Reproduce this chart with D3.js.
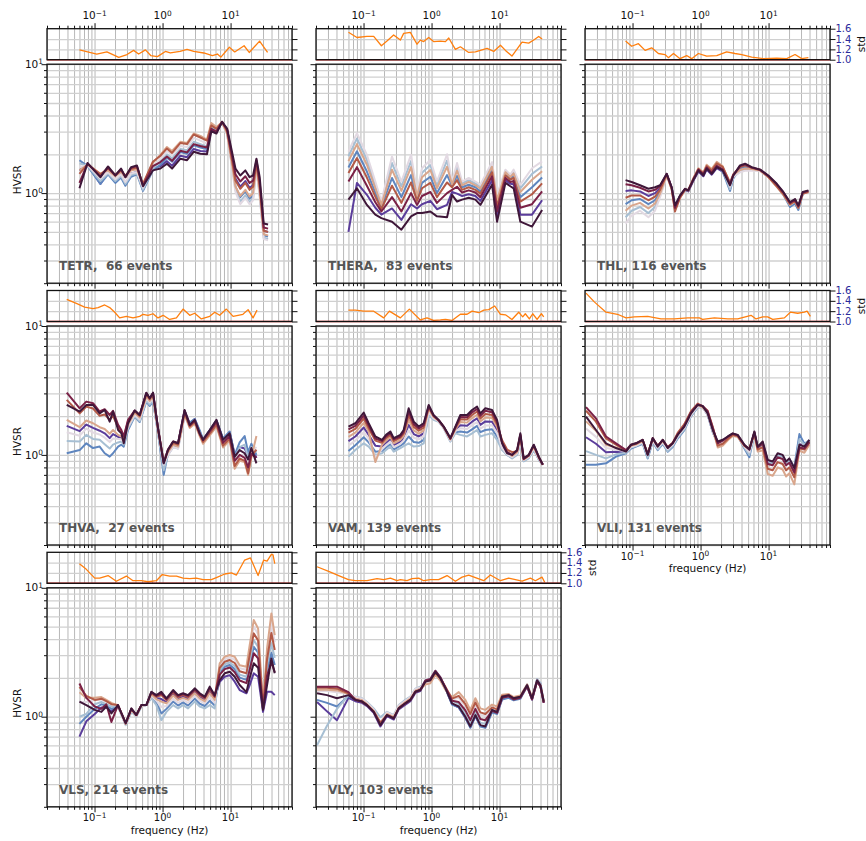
<!DOCTYPE html>
<html lang="en">
<head>
<meta charset="UTF-8">
<title>HVSR by station</title>
<script src="https://d3js.org/d3.v7.min.js"></script>
<style>
  html, body { margin: 0; padding: 0; background: #fff; }
  svg { display: block; font-family: "DejaVu Sans", sans-serif; }
  .domain { display: none; }
  .grid-v .tick line { stroke: #b0b0b0; stroke-width: 0.9; }
  .grid-h .tick line { stroke: #d0d0d0; stroke-width: 1.3; }
  .ax .tick line { stroke: #111; stroke-width: 1; }
  .frame { fill: none; stroke: #111; stroke-width: 1.3; }
  .lbl { font-size: 10.5px; fill: #111; }
  .xlbl { font-size: 10px; fill: #111; }
  .stdlbl { font-size: 10px; fill: #2a2a9a; }
  .pname { font-size: 12px; font-weight: bold; fill: #555; white-space: pre; }
</style>
</head>
<body>
<svg id="chart" width="866" height="841"></svg>
<script>
// colour positions (twilight_shifted) of the 8 drawn curves, drawn in this order
const lineT = [0.12, 0.25, 0.38, 0.5, 0.62, 0.74, 0.86, 0.97];
const cmapStops = [0, 0.12, 0.25, 0.38, 0.5, 0.62, 0.74, 0.86, 1.0];
const cmapColors = ["#2f1436", "#5b3d9b", "#5f86bf", "#a7bfd3", "#e2d9e2", "#d9a68c", "#b35a47", "#7a2146", "#2f1436"];

const panelNames = ["TETR", "THERA", "THL", "THVA", "VAM", "VLI", "VLS", "VLY"];
const panelEvents = [66, 83, 116, 27, 139, 131, 214, 103];

// ---- TETR
const freqTETR = [0.06,0.079,0.122,0.158,0.202,0.245,0.284,0.344,0.42,0.516,0.72,0.93,1.16,1.38,1.83,2.29,2.87,3.6,4.5,5.2,6.2,7.5,8.9,11.8,13.9,16.5,19,21.4,24,26.8,30.7,35.6];
const hvsrTETR = [
  [1.50,1.66,1.18,1.45,1.22,1.40,1.18,1.42,1.46,1.06,1.56,1.62,1.77,1.63,1.95,1.90,2.20,2.12,2.10,3.10,2.98,3.55,3.10,1.30,1.12,1.24,1.10,1.15,1.72,1.12,0.51,0.50],
  [1.80,1.62,1.18,1.40,1.20,1.32,1.14,1.34,1.40,1.04,1.50,1.66,1.88,1.75,2.08,2.02,2.35,2.26,2.20,3.18,3.05,3.50,3.00,1.12,0.93,1.03,0.91,0.96,1.60,1.00,0.47,0.46],
  [1.70,1.63,1.24,1.42,1.24,1.36,1.18,1.38,1.42,1.06,1.55,1.75,2.00,1.86,2.20,2.15,2.50,2.40,2.30,3.28,3.12,3.48,2.88,1.06,0.86,0.96,0.85,0.90,1.55,0.96,0.45,0.44],
  [1.60,1.64,1.30,1.45,1.28,1.40,1.22,1.42,1.46,1.10,1.62,1.85,2.12,1.98,2.32,2.28,2.68,2.55,2.42,3.40,3.20,3.50,2.85,1.02,0.82,0.92,0.82,0.88,1.52,0.94,0.44,0.43],
  [1.50,1.66,1.42,1.50,1.35,1.46,1.33,1.50,1.53,1.16,1.72,1.98,2.28,2.12,2.50,2.45,2.90,2.78,2.60,3.50,3.25,3.55,2.90,1.12,0.95,1.06,0.94,1.00,1.62,1.02,0.48,0.47],
  [1.41,1.68,1.40,1.55,1.38,1.50,1.36,1.54,1.58,1.18,1.75,1.95,2.22,2.05,2.45,2.40,2.85,2.70,2.55,3.35,3.15,3.57,3.00,1.25,1.08,1.20,1.06,1.12,1.72,1.12,0.51,0.50],
  [1.20,1.70,1.34,1.58,1.37,1.53,1.33,1.57,1.62,1.14,1.62,1.74,1.92,1.78,2.13,2.07,2.40,2.32,2.26,3.15,3.00,3.57,3.10,1.40,1.23,1.35,1.20,1.25,1.80,1.22,0.54,0.53],
  [1.09,1.71,1.33,1.61,1.37,1.55,1.33,1.59,1.64,1.13,1.50,1.55,1.69,1.55,1.85,1.80,2.09,2.02,2.00,3.02,2.90,3.57,3.17,1.55,1.37,1.50,1.33,1.37,1.85,1.33,0.58,0.57]
];
const stdFreqTETR = [0.060,0.108,0.152,0.227,0.300,0.375,0.445,0.56,0.67,0.84,1.10,1.30,1.81,2.29,2.87,4.04,5.4,6.4,7.2,9.6,11.5,15.8,18.8,26.7,35];
const stdTETR = [1.19,1.11,1.15,1.045,1.10,1.18,1.11,1.19,1.08,1.06,1.16,1.13,1.16,1.20,1.16,1.13,1.08,1.11,1.05,1.24,1.15,1.27,1.14,1.36,1.14];

// ---- THERA
const freqTHERA = [0.060,0.080,0.112,0.149,0.183,0.262,0.360,0.499,0.611,0.724,0.96,1.20,1.69,2.0,2.37,2.81,3.52,4.41,5.22,7.75,9.18,12.2,14.4,16.1,20.2,30.0,42.2];
const hvsrTHERA = [
  [0.50,1.20,0.97,0.77,0.68,0.76,0.62,0.82,0.76,0.82,0.87,0.75,0.81,1.02,0.99,0.95,0.98,0.95,0.87,1.26,0.66,1.26,1.18,1.17,0.68,0.68,0.88],
  [1.58,2.11,1.47,1.01,0.78,1.31,0.93,1.38,0.91,1.20,1.34,1.00,1.38,1.14,1.36,1.11,1.16,1.11,1.03,1.52,0.83,1.41,1.30,1.36,0.93,1.11,1.32],
  [1.93,2.65,1.81,1.16,0.835,1.71,1.13,1.77,0.99,1.44,1.65,1.16,1.79,1.20,1.60,1.19,1.26,1.19,1.12,1.67,0.92,1.49,1.36,1.47,1.09,1.41,1.61],
  [2.10,2.92,1.98,1.23,0.86,1.92,1.23,1.98,1.03,1.56,1.81,1.23,2.00,1.23,1.71,1.23,1.31,1.23,1.16,1.74,0.97,1.52,1.39,1.52,1.16,1.56,1.76],
  [1.77,2.40,1.66,1.09,0.81,1.52,1.04,1.59,0.95,1.33,1.51,1.09,1.60,1.17,1.49,1.15,1.22,1.15,1.08,1.60,0.88,1.45,1.33,1.42,1.02,1.27,1.48],
  [1.43,1.87,1.32,0.94,0.75,1.14,0.84,1.21,0.87,1.09,1.20,0.93,1.21,1.11,1.26,1.06,1.11,1.06,0.99,1.45,0.78,1.37,1.27,1.31,0.86,0.98,1.19],
  [1.23,1.59,1.14,0.85,0.72,0.93,0.72,1.00,0.81,0.95,1.02,0.84,1.00,1.06,1.12,1.01,1.05,1.01,0.93,1.35,0.72,1.31,1.22,1.24,0.77,0.82,1.03],
  [0.89,1.09,0.81,0.68,0.64,0.60,0.52,0.66,0.70,0.70,0.72,0.66,0.65,0.97,0.86,0.89,0.92,0.89,0.81,1.16,0.60,1.20,1.13,1.09,0.60,0.55,0.74]
];
const stdFreqTHERA = [0.060,0.080,0.112,0.141,0.183,0.221,0.277,0.348,0.389,0.488,0.611,0.684,0.766,0.908,1.07,1.35,1.60,1.79,2.24,2.65,3.52,4.41,5.22,6.54,8.2,10.3,12.2,15.2,21.4,26.8,31.8,37.6,42.2];
const stdTHERA = [1.53,1.43,1.45,1.45,1.27,1.36,1.48,1.38,1.51,1.53,1.30,1.38,1.35,1.43,1.35,1.36,1.35,1.42,1.20,1.25,1.14,1.15,1.18,1.22,1.16,1.28,1.18,1.07,1.34,1.32,1.38,1.45,1.40];

// ---- THL
const freqTHL = [0.079,0.097,0.129,0.171,0.214,0.254,0.318,0.376,0.421,0.499,0.591,0.66,0.78,0.93,1.10,1.23,1.46,1.73,2.11,2.71,3.03,3.80,4.51,5.65,7.5,9.9,13.2,16.5,20.7,24.5,27.4,31.8,38.5];
const hvsrTHL = [
  [1.04,1.05,1.03,0.95,1.00,1.09,1.40,1.10,0.79,0.94,1.06,1.03,1.24,1.47,1.35,1.52,1.39,1.56,1.47,1.12,1.34,1.60,1.65,1.56,1.50,1.35,1.15,0.99,0.82,0.87,0.78,1.00,1.03],
  [0.82,0.88,0.90,0.82,0.88,1.02,1.39,1.10,0.80,0.95,1.07,1.04,1.27,1.52,1.40,1.58,1.44,1.62,1.48,1.04,1.30,1.56,1.60,1.55,1.50,1.34,1.14,0.97,0.78,0.83,0.74,0.98,1.04],
  [0.65,0.73,0.78,0.70,0.78,0.96,1.37,1.09,0.78,0.94,1.07,1.05,1.28,1.53,1.42,1.60,1.47,1.66,1.54,1.07,1.32,1.48,1.52,1.52,1.49,1.34,1.14,0.98,0.81,0.86,0.77,1.00,1.03],
  [0.58,0.67,0.73,0.65,0.73,0.93,1.36,1.08,0.76,0.93,1.07,1.05,1.29,1.54,1.44,1.63,1.51,1.72,1.60,1.12,1.35,1.45,1.49,1.50,1.48,1.33,1.14,0.99,0.83,0.88,0.78,1.00,1.02],
  [0.73,0.80,0.84,0.76,0.83,0.99,1.38,1.07,0.74,0.92,1.06,1.06,1.30,1.56,1.45,1.66,1.54,1.75,1.62,1.18,1.38,1.51,1.55,1.54,1.50,1.33,1.12,0.97,0.81,0.86,0.77,0.99,1.02],
  [0.92,0.96,0.96,0.88,0.94,1.06,1.39,1.08,0.72,0.92,1.06,1.05,1.28,1.54,1.42,1.62,1.50,1.70,1.60,1.21,1.40,1.59,1.64,1.57,1.51,1.34,1.13,0.98,0.82,0.87,0.77,0.99,1.02],
  [1.17,1.15,1.10,1.03,1.06,1.13,1.41,1.11,0.77,0.95,1.08,1.05,1.27,1.52,1.40,1.58,1.44,1.63,1.53,1.17,1.38,1.62,1.67,1.58,1.52,1.36,1.17,1.01,0.84,0.89,0.79,1.01,1.04],
  [1.26,1.22,1.15,1.08,1.11,1.15,1.41,1.11,0.80,0.96,1.08,1.05,1.26,1.50,1.37,1.55,1.41,1.59,1.50,1.15,1.37,1.64,1.69,1.59,1.52,1.37,1.18,1.02,0.85,0.90,0.80,1.02,1.05]
];
const stdFreqTHL = [0.079,0.097,0.122,0.153,0.191,0.24,0.30,0.336,0.40,0.50,0.625,0.74,0.93,1.23,1.73,2.42,3.21,4.03,5.65,8.4,13.2,18.5,24.5,30.7,38.5];
const stdTHL = [1.36,1.26,1.31,1.18,1.23,1.12,1.10,1.04,1.12,1.02,1.08,1.02,1.12,1.07,1.08,1.15,1.12,1.10,1.05,1.02,1.03,1.02,1.10,1.02,1.04];

// ---- THVA
const freqTHVA = [0.039,0.0605,0.0757,0.095,0.119,0.141,0.167,0.187,0.222,0.248,0.269,0.311,0.389,0.461,0.578,0.647,0.724,0.857,1.04,1.20,1.43,1.69,2.11,2.51,2.97,3.52,3.94,4.94,6.2,7.75,9.7,11.5,13.6,16.1,18.1,20.2,24.0];
const hvsrTHVA = [
  [1.68,1.53,1.72,1.62,1.54,1.47,1.35,1.45,1.38,1.35,1.26,1.69,2.20,2.02,3.00,2.72,3.00,1.60,0.80,1.08,1.26,1.22,2.20,1.76,1.90,1.50,1.32,1.55,1.85,1.32,1.50,1.00,1.15,1.12,0.98,1.18,0.95],
  [1.03,1.09,1.23,1.13,1.16,1.03,0.97,1.03,1.16,1.20,1.16,1.56,1.98,1.80,2.60,2.40,2.60,1.48,0.70,1.02,1.18,1.15,2.05,1.78,1.90,1.55,1.32,1.55,1.85,1.34,1.52,1.00,1.25,1.40,1.05,1.22,1.00],
  [1.28,1.27,1.43,1.33,1.31,1.21,1.12,1.20,1.25,1.27,1.20,1.61,2.00,1.82,2.65,2.45,2.65,1.50,0.76,1.00,1.15,1.12,2.00,1.70,1.82,1.48,1.28,1.50,1.78,1.28,1.45,0.95,1.15,1.20,0.95,1.15,1.05],
  [1.50,1.41,1.60,1.49,1.44,1.36,1.26,1.34,1.33,1.32,1.24,1.66,2.05,1.88,2.75,2.55,2.75,1.52,0.84,1.00,1.15,1.12,2.00,1.62,1.74,1.42,1.24,1.45,1.70,1.20,1.36,0.85,1.00,1.00,0.82,1.05,1.15],
  [1.87,1.64,1.85,1.76,1.64,1.59,1.46,1.56,1.43,1.39,1.28,1.72,2.12,1.95,2.85,2.62,2.85,1.56,0.88,1.05,1.20,1.16,2.05,1.62,1.75,1.40,1.22,1.42,1.66,1.14,1.30,0.78,0.90,0.88,0.70,0.96,1.40],
  [2.67,2.10,2.37,2.29,2.01,2.06,1.87,2.01,1.63,1.51,1.36,1.83,2.18,2.00,2.95,2.70,2.95,1.60,0.88,1.08,1.24,1.20,2.12,1.66,1.80,1.44,1.26,1.46,1.72,1.18,1.34,0.82,0.94,0.90,0.72,0.98,1.10],
  [3.04,2.30,2.59,2.52,2.17,2.26,2.04,2.20,1.71,1.56,1.39,1.87,2.21,2.04,3.02,2.75,3.02,1.62,0.87,1.10,1.27,1.23,2.20,1.70,1.85,1.46,1.30,1.52,1.80,1.24,1.40,0.90,1.00,0.95,0.80,1.02,0.95],
  [2.44,2.17,2.44,2.44,2.10,2.23,1.81,2.17,1.56,1.47,1.23,1.76,2.21,2.04,3.04,2.75,3.04,1.61,0.86,1.09,1.27,1.23,2.23,1.71,1.87,1.47,1.31,1.56,1.87,1.31,1.47,0.97,1.09,1.03,0.92,1.13,0.86]
];
const stdFreqTHVA = [0.039,0.054,0.0716,0.095,0.113,0.141,0.167,0.198,0.234,0.294,0.368,0.461,0.516,0.611,0.724,0.857,1.02,1.27,1.60,2.0,2.51,2.97,3.72,4.94,5.85,6.92,8.67,10.9,15.2,18.1,21.4,24.5];
const stdTHVA = [1.43,1.35,1.28,1.25,1.27,1.32,1.27,1.18,1.07,1.10,1.07,1.10,1.14,1.12,1.15,1.07,1.12,1.04,1.07,1.24,1.12,1.16,1.05,1.10,1.18,1.12,1.24,1.10,1.14,1.23,1.07,1.22];

// ---- VAM
const freqVAM = [0.060,0.0757,0.1007,0.119,0.149,0.187,0.214,0.248,0.278,0.348,0.389,0.461,0.547,0.647,0.766,0.908,1.07,1.27,1.51,1.89,2.24,2.65,3.33,3.94,4.67,5.22,6.18,7.75,9.18,10.9,12.9,15.3,18.1,20.2,22.6,26.8,31.8,37.7,43.2];
const hvsrVAM = [
  [1.28,1.39,1.63,1.43,1.18,1.16,1.24,1.32,1.19,1.27,1.35,1.71,1.45,1.39,1.47,2.22,1.95,1.84,1.63,1.31,1.56,1.70,1.68,1.81,1.92,1.71,1.82,1.81,1.56,1.15,1.01,0.97,1.04,1.34,0.91,0.97,1.14,0.94,0.84],
  [1.07,1.19,1.37,1.25,1.06,1.07,1.14,1.21,1.10,1.18,1.23,1.39,1.26,1.24,1.31,2.10,1.90,1.82,1.62,1.28,1.50,1.52,1.49,1.58,1.68,1.50,1.56,1.58,1.39,1.11,1.00,0.95,1.01,1.27,0.90,0.95,1.10,0.92,0.84],
  [0.97,1.09,1.23,1.16,1.00,1.03,1.09,1.16,1.06,1.13,1.17,1.23,1.16,1.17,1.23,2.04,1.87,1.81,1.61,1.27,1.47,1.43,1.39,1.47,1.56,1.39,1.43,1.47,1.31,1.09,1.00,0.94,1.00,1.23,0.89,0.94,1.09,0.92,0.84],
  [1.18,1.29,1.50,1.34,0.95,1.11,1.19,1.27,1.15,1.22,1.29,1.55,1.36,1.32,1.39,2.16,1.92,1.83,1.62,1.29,1.53,1.61,1.59,1.70,1.80,1.60,1.69,1.70,1.48,1.13,1.01,0.96,1.03,1.30,0.91,0.96,1.12,0.93,0.84],
  [1.38,1.49,1.77,1.52,0.88,1.20,1.29,1.38,1.23,1.31,1.40,1.87,1.55,1.46,1.55,2.28,1.97,1.85,1.64,1.32,1.58,1.80,1.78,1.93,2.05,1.82,1.95,1.93,1.65,1.25,1.06,0.98,1.05,1.37,0.92,0.98,1.16,0.95,0.84],
  [1.49,1.59,1.91,1.61,1.29,1.24,1.35,1.43,1.28,1.36,1.46,2.03,1.65,1.54,1.63,2.34,2.00,1.85,1.65,1.33,1.61,1.89,1.88,2.04,2.17,1.92,2.08,2.04,1.73,1.30,1.10,1.05,1.07,1.41,0.93,0.99,1.17,0.96,0.84],
  [1.58,1.68,2.02,1.69,1.34,1.28,1.39,1.48,1.32,1.39,1.51,2.17,1.73,1.60,1.70,2.39,2.02,1.86,1.65,1.34,1.64,1.97,1.96,2.14,2.27,2.01,2.20,2.14,1.80,1.25,1.05,1.00,1.08,1.44,0.93,0.99,1.19,0.96,0.84],
  [1.66,1.76,2.13,1.76,1.39,1.31,1.43,1.52,1.35,1.43,1.56,2.30,1.81,1.66,1.76,2.44,2.04,1.87,1.66,1.35,1.66,2.04,2.04,2.23,2.37,2.10,2.30,2.23,1.87,1.23,1.03,1.00,1.09,1.47,0.94,1.00,1.20,0.97,0.84]
];
const stdFreqVAM = [0.060,0.0757,0.1007,0.141,0.198,0.24,0.348,0.472,0.684,0.857,1.07,1.35,1.60,2.0,2.65,3.33,3.94,4.94,5.85,6.92,8.48,10.3,12.2,15.2,19.1,21.9,23.9,27.4,30.7,35.6,41.2,44.6];
const stdVAM = [1.22,1.22,1.20,1.20,1.07,1.20,1.07,1.24,1.03,1.07,1.02,1.03,1.04,1.02,1.14,1.14,1.20,1.17,1.22,1.23,1.30,1.14,1.13,1.04,1.18,1.09,1.15,1.05,1.15,1.04,1.15,1.09];

// ---- VLI
const freqVLI = [0.0207,0.029,0.0407,0.0571,0.0802,0.095,0.1125,0.141,0.167,0.198,0.234,0.278,0.329,0.389,0.461,0.578,0.724,0.908,1.07,1.27,1.51,1.79,2.12,2.51,2.97,3.52,4.41,5.22,6.18,6.92,8.20,9.72,11.5,13.6,16.1,18.1,20.2,23.9,28.4,33.6,39.8];
const hvsrVLI = [
  [1.37,1.22,1.05,1.06,1.05,1.16,1.19,1.27,0.97,1.31,1.12,1.27,1.10,1.19,1.39,1.62,2.06,2.40,2.35,2.05,1.52,1.24,1.28,1.36,1.44,1.40,1.17,1.04,1.49,1.14,1.24,0.90,0.87,1.01,0.98,0.87,0.92,0.78,1.22,1.15,1.30],
  [0.84,0.84,0.86,0.97,1.03,1.12,1.16,1.22,0.94,1.26,1.09,1.22,1.06,1.15,1.34,1.56,2.00,2.34,2.35,2.06,1.50,1.21,1.27,1.36,1.45,1.41,1.12,0.96,1.45,1.12,1.22,0.87,0.85,1.00,0.98,0.87,0.93,0.80,1.45,1.22,1.30],
  [1.07,1.00,0.94,1.01,1.04,1.14,1.17,1.24,0.95,1.28,1.10,1.24,1.07,1.17,1.36,1.58,2.02,2.36,2.34,2.06,1.52,1.22,1.27,1.35,1.44,1.40,1.14,1.00,1.46,1.12,1.20,0.88,0.86,1.00,0.97,0.86,0.92,0.78,1.32,1.20,1.30],
  [1.60,1.38,1.13,1.10,1.06,1.15,1.18,1.25,1.00,1.28,1.14,1.25,1.11,1.20,1.40,1.62,2.04,2.38,2.33,2.05,1.52,1.22,1.27,1.34,1.42,1.39,1.16,1.05,1.46,1.10,1.12,0.78,0.76,0.88,0.86,0.76,0.80,0.68,1.18,1.12,1.26],
  [1.82,1.54,1.20,1.14,1.07,1.18,1.21,1.28,1.03,1.32,1.18,1.28,1.15,1.23,1.46,1.72,2.15,2.46,2.34,2.14,1.60,1.14,1.18,1.30,1.40,1.38,1.17,1.12,1.44,1.06,1.08,0.71,0.69,0.80,0.77,0.68,0.72,0.59,1.08,1.04,1.20],
  [2.20,1.81,1.34,1.20,1.08,1.19,1.22,1.30,1.02,1.34,1.18,1.30,1.15,1.24,1.48,1.73,2.18,2.50,2.38,2.20,1.65,1.18,1.22,1.33,1.43,1.40,1.18,1.12,1.48,1.10,1.15,0.78,0.76,0.88,0.85,0.76,0.80,0.67,1.12,1.10,1.24],
  [2.35,1.92,1.39,1.23,1.09,1.20,1.23,1.31,1.01,1.35,1.17,1.31,1.14,1.23,1.44,1.68,2.14,2.46,2.40,2.18,1.62,1.23,1.29,1.38,1.46,1.42,1.19,1.10,1.50,1.14,1.22,0.85,0.83,0.96,0.93,0.83,0.87,0.73,1.14,1.12,1.26],
  [1.98,1.56,1.23,1.13,1.06,1.20,1.23,1.31,1.00,1.35,1.16,1.31,1.13,1.23,1.43,1.66,2.10,2.44,2.40,2.10,1.56,1.27,1.31,1.39,1.47,1.43,1.20,1.10,1.52,1.16,1.27,0.915,0.89,1.03,1.00,0.89,0.94,0.79,1.20,1.16,1.31]
];
const stdFreqVLI = [0.0207,0.0274,0.0407,0.060,0.0802,0.106,0.167,0.262,0.412,0.647,0.96,1.07,1.60,2.51,3.52,5.52,6.54,8.20,9.7,11.5,17.1,20.9,26.8,33.6,36.8,41.2];
const stdVLI = [1.55,1.38,1.18,1.14,1.07,1.09,1.10,1.05,1.05,1.07,1.07,1.04,1.07,1.05,1.05,1.12,1.05,1.09,1.09,1.04,1.07,1.18,1.16,1.18,1.20,1.10];

// ---- VLS
const freqVLS = [0.060,0.0757,0.1007,0.126,0.149,0.177,0.221,0.287,0.348,0.412,0.488,0.578,0.684,0.811,0.96,1.14,1.43,1.69,2.0,2.37,2.97,3.52,4.17,4.94,5.85,6.92,8.20,9.72,11.5,13.6,17.1,19.1,21.9,25.4,30.0,34.4,39.8,44.6];
const hvsrVLS = [
  [0.70,0.92,1.05,1.18,1.18,1.10,1.22,0.88,1.14,1.02,1.22,1.23,1.51,1.40,1.37,1.30,1.50,1.38,1.43,1.38,1.56,1.42,1.35,1.57,1.38,1.87,2.04,2.10,1.87,1.61,1.52,1.76,2.17,2.04,1.09,1.56,1.56,1.47],
  [0.88,1.00,1.15,1.25,1.22,1.15,1.21,0.87,1.10,1.01,1.21,1.23,1.42,1.28,1.06,1.15,1.31,1.22,1.29,1.22,1.38,1.26,1.21,1.33,1.22,2.20,2.44,2.52,2.34,2.01,1.93,2.51,3.49,3.14,1.16,2.30,3.14,2.52],
  [1.00,1.05,1.25,1.30,1.25,1.20,1.20,0.86,1.09,1.00,1.20,1.23,1.39,1.23,0.94,1.09,1.23,1.16,1.23,1.16,1.31,1.20,1.16,1.23,1.16,2.29,2.55,2.63,2.46,2.12,2.04,2.74,3.92,3.48,1.17,2.53,3.71,2.86],
  [1.30,1.30,1.35,1.36,1.30,1.25,1.21,0.87,1.12,1.01,1.21,1.23,1.46,1.33,1.19,1.21,1.38,1.28,1.35,1.28,1.45,1.33,1.27,1.42,1.28,2.49,2.80,2.88,2.77,2.38,2.31,3.30,5.01,4.37,1.21,3.09,5.35,3.78],
  [1.55,1.40,1.40,1.42,1.35,1.28,1.22,0.88,1.13,1.02,1.22,1.23,1.49,1.37,1.31,1.27,1.46,1.35,1.40,1.35,1.52,1.39,1.32,1.52,1.35,2.59,2.92,3.01,2.92,2.51,2.44,3.59,5.62,4.84,1.23,3.39,6.32,4.30],
  [1.70,1.45,1.35,1.38,1.32,1.25,1.23,0.89,1.15,1.03,1.23,1.23,1.53,1.43,1.47,1.35,1.55,1.42,1.48,1.42,1.61,1.47,1.39,1.64,1.42,2.39,2.67,2.75,2.61,2.25,2.17,3.00,4.43,3.90,1.19,2.79,4.46,3.29],
  [1.81,1.40,1.20,1.15,1.25,0.91,1.23,0.89,1.15,1.03,1.23,1.23,1.55,1.45,1.51,1.37,1.58,1.45,1.50,1.45,1.63,1.49,1.41,1.67,1.45,2.12,2.34,2.41,2.21,1.91,1.82,2.30,3.11,2.83,1.14,2.09,2.65,2.21],
  [1.31,1.23,1.13,1.09,1.20,1.06,1.23,0.89,1.16,1.03,1.23,1.23,1.56,1.47,1.56,1.39,1.61,1.47,1.52,1.47,1.66,1.52,1.43,1.71,1.47,1.92,2.17,2.23,2.04,1.76,1.55,2.00,2.60,2.40,1.13,1.76,2.83,2.17]
];
const stdFreqVLS = [0.060,0.0757,0.1007,0.119,0.158,0.209,0.294,0.368,0.488,0.611,0.811,0.99,1.27,1.60,2.0,2.51,3.14,3.94,5.22,6.18,8.20,10.3,12.2,16.1,19.6,25.4,30.7,34.4,39.8,42.1,44.6];
const stdVLS = [1.38,1.27,1.10,1.10,1.15,1.04,1.14,1.05,1.05,1.03,1.05,1.17,1.14,1.14,1.10,1.09,1.10,1.07,1.07,1.11,1.18,1.20,1.16,1.45,1.49,1.15,1.45,1.43,1.56,1.55,1.38];

// ---- VLY
const freqVLY = [0.0207,0.029,0.0407,0.060,0.0757,0.095,0.1125,0.141,0.177,0.221,0.278,0.329,0.412,0.488,0.578,0.684,0.811,0.96,1.14,1.35,1.60,2.0,2.51,3.14,3.72,4.41,5.22,6.18,7.75,9.18,10.9,13.6,16.1,20.2,25.4,30.0,35.6,39.8,44.6];
const hvsrVLY = [
  [1.30,1.10,0.94,1.40,1.32,1.28,1.21,1.07,0.84,1.01,0.95,1.14,1.24,1.32,1.53,1.58,1.87,1.92,2.23,1.98,1.66,1.25,1.18,0.98,0.83,1.01,0.85,0.83,1.10,1.06,1.38,1.44,1.36,1.40,1.72,1.36,1.88,1.72,1.28],
  [1.35,1.28,1.20,1.45,1.38,1.34,1.25,1.11,0.88,1.05,0.99,1.18,1.30,1.38,1.59,1.64,1.91,1.96,2.27,2.02,1.66,1.24,1.18,0.98,0.82,1.01,0.84,0.82,1.08,1.05,1.36,1.40,1.34,1.38,1.72,1.36,1.94,1.82,1.30],
  [0.60,0.85,1.15,1.47,1.43,1.39,1.30,1.16,0.99,1.09,1.03,1.23,1.35,1.43,1.65,1.71,1.83,1.88,2.20,1.96,1.64,1.33,1.26,1.05,0.88,1.08,0.90,0.88,1.13,1.09,1.42,1.47,1.39,1.44,1.78,1.40,1.95,1.80,1.33],
  [1.58,1.58,1.55,1.50,1.42,1.38,1.29,1.14,0.90,1.08,1.02,1.22,1.33,1.42,1.64,1.69,1.80,1.84,2.14,1.92,1.62,1.36,1.40,1.20,1.01,1.24,1.03,1.01,1.18,1.14,1.45,1.49,1.40,1.44,1.76,1.40,1.92,1.78,1.32],
  [1.62,1.62,1.60,1.50,1.38,1.34,1.25,1.11,0.88,1.05,0.99,1.18,1.30,1.38,1.59,1.64,1.78,1.82,2.12,1.90,1.62,1.42,1.55,1.35,1.13,1.39,1.16,1.13,1.24,1.20,1.48,1.50,1.42,1.46,1.78,1.42,1.90,1.76,1.32],
  [1.68,1.68,1.65,1.52,1.35,1.31,1.23,1.10,0.90,1.03,0.98,1.16,1.27,1.35,1.56,1.61,1.87,1.92,2.20,1.98,1.70,1.38,1.45,1.25,1.05,1.29,1.08,1.05,1.18,1.14,1.45,1.47,1.39,1.43,1.74,1.38,1.88,1.74,1.30],
  [1.71,1.71,1.71,1.55,1.35,1.31,1.23,1.09,0.86,1.03,0.97,1.16,1.27,1.35,1.56,1.61,1.91,1.96,2.27,2.02,1.69,1.33,1.30,1.12,0.94,1.15,0.96,0.94,1.11,1.07,1.40,1.44,1.36,1.40,1.72,1.36,1.88,1.72,1.28],
  [1.52,1.47,1.39,1.47,1.35,1.31,1.23,1.09,0.86,1.03,0.97,1.16,1.27,1.35,1.56,1.61,1.87,1.92,2.23,1.98,1.66,1.27,1.20,1.00,0.84,1.03,0.86,0.84,1.13,1.09,1.43,1.47,1.39,1.43,1.76,1.39,1.92,1.76,1.31]
];
const stdFreqVLY = [0.0207,0.0307,0.0431,0.060,0.0757,0.1125,0.158,0.198,0.248,0.31,0.348,0.436,0.516,0.647,0.766,0.96,1.27,1.69,2.24,2.81,3.52,4.41,5.85,7.32,10.3,13.6,17.1,21.4,28.4,33.6,42.1,46.1];
const stdVLY = [1.32,1.23,1.15,1.07,1.05,1.05,1.09,1.07,1.10,1.05,1.07,1.05,1.09,1.10,1.05,1.07,1.07,1.15,1.04,1.12,1.16,1.11,1.05,1.16,1.05,1.10,1.07,1.04,1.10,1.05,1.12,1.02];

const stdTicks = [1.0, 1.2, 1.4, 1.6];

// ---------- layout
const W = 245, SH = 31, MH = 219, MOFF = 35.5;
const colLeft = [47, 316, 585];
const rowTop = [28.7, 290.5, 552.3];

const panels = [
  {f: freqTETR, h: hvsrTETR, sf: stdFreqTETR, s: stdTETR},
  {f: freqTHERA, h: hvsrTHERA, sf: stdFreqTHERA, s: stdTHERA},
  {f: freqTHL, h: hvsrTHL, sf: stdFreqTHL, s: stdTHL},
  {f: freqTHVA, h: hvsrTHVA, sf: stdFreqTHVA, s: stdTHVA},
  {f: freqVAM, h: hvsrVAM, sf: stdFreqVAM, s: stdVAM},
  {f: freqVLI, h: hvsrVLI, sf: stdFreqVLI, s: stdVLI},
  {f: freqVLS, h: hvsrVLS, sf: stdFreqVLS, s: stdVLS},
  {f: freqVLY, h: hvsrVLY, sf: stdFreqVLY, s: stdVLY}
].map((p, i) => Object.assign(p, {name: panelNames[i], events: panelEvents[i]}));

const svg = d3.select("#chart");

const x = d3.scaleLog().domain([0.02, 80]).range([0, W]);
const yMain = d3.scaleLog().domain([0.2, 10]).range([MH, 0]);
const yStd = d3.scaleLinear().domain([1.0, 1.6]).range([SH, 0]);
const colour = d3.scaleLinear().domain(cmapStops).range(cmapColors);

const isMajor = v => Math.abs(Math.log10(v) - Math.round(Math.log10(v))) < 1e-6;
const xTicks = x.ticks();
const xMajor = xTicks.filter(isMajor), xMinor = xTicks.filter(v => !isMajor(v));
const yTicks = yMain.ticks();
const yMajor = yTicks.filter(isMajor), yMinor = yTicks.filter(v => !isMajor(v));

function powText(sel, v) {
  const e = Math.round(Math.log10(v));
  sel.append("tspan").text("10");
  sel.append("tspan").attr("dy", "-0.48em").style("font-size", "7.4px")
    .text(e < 0 ? "\u2212" + (-e) : String(e));
}

svg.append("defs").append("clipPath").attr("id", "clipMain")
  .append("rect").attr("width", W).attr("height", MH);
svg.select("defs").append("clipPath").attr("id", "clipStd")
  .append("rect").attr("width", W).attr("height", SH);

const noDomain = g => g.select(".domain").remove();

panels.forEach((p, i) => {
  const row = Math.floor(i / 3), col = i % 3;
  const gx = colLeft[col], gy = rowTop[row];
  const showY = col === 0;
  const showX = i >= 5;
  const showTop = row === 0;
  const showStd = i === 2 || i === 5 || i === 7;

  // ---- std sub-axes
  const gs = svg.append("g").attr("transform", `translate(${gx},${gy})`);
  gs.append("g").attr("class", "grid-v").attr("transform", `translate(0,${SH})`)
    .call(d3.axisBottom(x).tickValues(xTicks).tickSize(-SH).tickFormat(""))
    .call(noDomain);
  gs.append("g").attr("class", "grid-h")
    .call(d3.axisLeft(yStd).tickValues([1.2, 1.4]).tickSize(-W).tickFormat(""))
    .call(noDomain);

  gs.append("path")
    .datum(p.sf.map((f, k) => [f, p.s[k]]))
    .attr("clip-path", "url(#clipStd)")
    .attr("fill", "none").attr("stroke", "#ff7f0e").attr("stroke-width", 1.3)
    .attr("stroke-linejoin", "round")
    .attr("d", d3.line().x(d => x(d[0])).y(d => yStd(d[1])));

  gs.append("line").attr("x1", 0).attr("x2", W)
    .attr("y1", yStd(1.0)).attr("y2", yStd(1.0))
    .attr("stroke", "#dd1c1c").attr("stroke-width", 1.6);

  gs.append("rect").attr("class", "frame").attr("width", W).attr("height", SH);

  gs.append("g").attr("class", "ax").attr("transform", `translate(${W},0)`)
    .call(d3.axisRight(yStd).tickValues(stdTicks).tickSize(5.5).tickFormat(""))
    .call(noDomain);

  if (showTop) {
    gs.append("g").attr("class", "ax")
      .call(d3.axisTop(x).tickValues(xMinor).tickSize(3).tickFormat(""))
      .call(noDomain);
    gs.append("g").attr("class", "ax")
      .call(d3.axisTop(x).tickValues(xMajor).tickSize(5.5).tickFormat(""))
      .call(noDomain);
    xMajor.forEach(v => {
      gs.append("text").attr("class", "lbl").attr("text-anchor", "middle")
        .attr("x", x(v)).attr("y", -9.5).call(powText, v);
    });
  }

  if (showStd) {
    stdTicks.forEach(v => {
      gs.append("text").attr("class", "stdlbl")
        .attr("x", W + 5.5).attr("y", yStd(v)).attr("dy", "0.35em")
        .text(d3.format(".1f")(v));
    });
    gs.append("text").attr("class", "lbl").attr("text-anchor", "middle")
      .attr("transform", `translate(${W + 31},${SH / 2}) rotate(-90)`)
      .attr("dy", "0.35em").text("std");
  }

  // ---- main HVSR axes
  const gm = svg.append("g").attr("transform", `translate(${gx},${gy + MOFF})`);
  gm.append("g").attr("class", "grid-v").attr("transform", `translate(0,${MH})`)
    .call(d3.axisBottom(x).tickValues(xTicks).tickSize(-MH).tickFormat(""))
    .call(noDomain);
  gm.append("g").attr("class", "grid-h")
    .call(d3.axisLeft(yMain).tickValues(yTicks).tickSize(-W).tickFormat(""))
    .call(noDomain);

  const line = d3.line()
    .defined(d => d[1] != null)
    .x(d => x(d[0])).y(d => yMain(d[1]));
  const curves = gm.append("g").attr("clip-path", "url(#clipMain)");
  p.h.forEach((vals, k) => {
    curves.append("path")
      .datum(p.f.map((f, j) => [f, vals[j]]))
      .attr("fill", "none")
      .attr("stroke", colour(lineT[k]))
      .attr("stroke-width", 2)
      .attr("stroke-linejoin", "round")
      .attr("d", line);
  });

  gm.append("rect").attr("class", "frame").attr("width", W).attr("height", MH);

  gm.append("g").attr("class", "ax")
    .call(d3.axisLeft(yMain).tickValues(yMinor).tickSize(3).tickFormat(""))
    .call(noDomain);
  gm.append("g").attr("class", "ax")
    .call(d3.axisLeft(yMain).tickValues(yMajor).tickSize(5.5).tickFormat(""))
    .call(noDomain);
  gm.append("g").attr("class", "ax").attr("transform", `translate(0,${MH})`)
    .call(d3.axisBottom(x).tickValues(xMinor).tickSize(3).tickFormat(""))
    .call(noDomain);
  gm.append("g").attr("class", "ax").attr("transform", `translate(0,${MH})`)
    .call(d3.axisBottom(x).tickValues(xMajor).tickSize(5.5).tickFormat(""))
    .call(noDomain);

  if (showY) {
    yMajor.forEach(v => {
      gm.append("text").attr("class", "lbl").attr("text-anchor", "end")
        .attr("x", -4).attr("y", yMain(v)).attr("dy", "0.35em").call(powText, v);
    });
    gm.append("text").attr("class", "lbl").attr("text-anchor", "middle")
      .attr("transform", `translate(${17 - gx},${MH / 2 + 6}) rotate(-90)`)
      .attr("dy", "0.35em").text("HVSR");
  }

  if (showX) {
    xMajor.forEach(v => {
      gm.append("text").attr("class", "xlbl").attr("text-anchor", "middle")
        .attr("x", x(v)).attr("y", MH + 14.5).call(powText, v);
    });
    gm.append("text").attr("class", "lbl").attr("text-anchor", "middle")
      .attr("x", W / 2).attr("y", MH + 27).text("frequency (Hz)");
  }

  gm.append("text").attr("class", "pname")
    .attr("xml:space", "preserve")
    .attr("x", 12).attr("y", MH - 12.8)
    .text(`${p.name}, ${String(p.events).padStart(3, " ")} events`);
});
</script>
</body>
</html>
